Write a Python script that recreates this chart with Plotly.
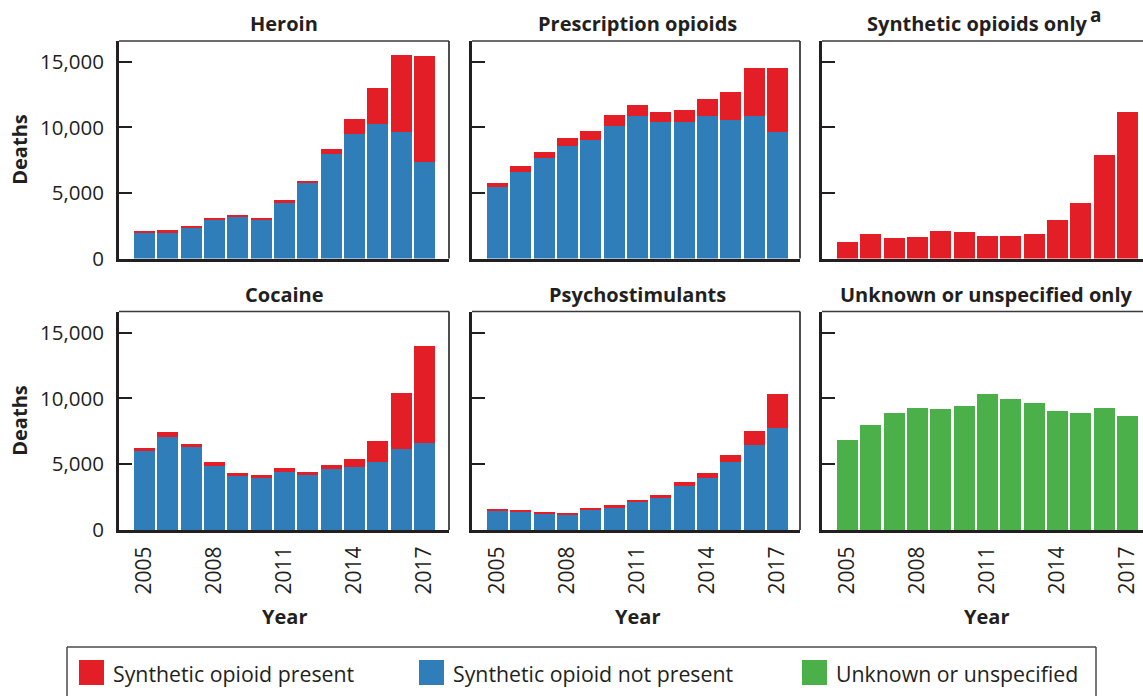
import plotly.graph_objects as go

years = list(range(2005, 2018))

heroin_not_present = [1950, 1950, 2380, 3010, 3220, 3010, 4310, 5830, 8000, 9530, 10290, 9680, 7350]
heroin_present = [150, 230, 80, 80, 70, 80, 120, 120, 340, 1090, 2760, 5880, 8130]

rx_not_present = [5420, 6590, 7650, 8560, 9020, 10080, 10890, 10390, 10440, 10840, 10590, 10840, 9630]
rx_present = [380, 450, 510, 610, 730, 890, 840, 810, 910, 1350, 2150, 3700, 4910]

synthetic_only = [1240, 1850, 1550, 1620, 2100, 2030, 1700, 1700, 1850, 2910, 4230, 7930, 11200]

cocaine_not_present = [6020, 7030, 6270, 4900, 4140, 3980, 4440, 4210, 4640, 4750, 5200, 6170, 6620]
cocaine_present = [200, 430, 280, 280, 200, 210, 280, 210, 310, 660, 1580, 4210, 7390]

psycho_not_present = [1500, 1350, 1270, 1190, 1500, 1700, 2110, 2460, 3380, 3960, 5150, 6470, 7770]
psycho_present = [100, 170, 100, 80, 180, 200, 170, 180, 270, 380, 560, 1070, 2590]

unknown_only = [6850, 7970, 8880, 9290, 9210, 9440, 10330, 9970, 9640, 9040, 8880, 9290, 8650]

panel_titles = ["Heroin", "Prescription opioids", "Synthetic opioids only",
                "Cocaine", "Psychostimulants", "Unknown or unspecified only"]
footnote_mark = "a"
legend_labels = ["Synthetic opioid present", "Synthetic opioid not present", "Unknown or unspecified"]
year_ticks = [2005, 2008, 2011, 2014, 2017]
y_ticks = [0, 5000, 10000, 15000]

RED = "#E31E26"
BLUE = "#2F7EBA"
GREEN = "#4BAF4A"
INK = "#231F20"
FONT = "Open Sans"

W, H = 1143, 696

# pixel layout of panels
col_px = [(119, 449), (472, 800), (822, 1143)]
row_px = [(41, 258.5), (311.5, 530)]
nominal_w = 330
title_shift = [0, 0, -10, 0, 0, 0]

fig = go.Figure()

panels = [
    [(heroin_not_present, BLUE), (heroin_present, RED)],
    [(rx_not_present, BLUE), (rx_present, RED)],
    [(synthetic_only, RED)],
    [(cocaine_not_present, BLUE), (cocaine_present, RED)],
    [(psycho_not_present, BLUE), (psycho_present, RED)],
    [(unknown_only, GREEN)],
]

x_start = 2003.907
units_per_px = 14.14 / nominal_w
y_max = 16600

shapes = []
annotations = []


def px_x(v):
    return v / W


def px_y(v):
    return 1 - v / H


for i, series in enumerate(panels):
    r, c = divmod(i, 3)
    n = i + 1
    xa = "x" if n == 1 else f"x{n}"
    ya = "y" if n == 1 else f"y{n}"
    for vals, color in series:
        fig.add_trace(go.Bar(x=years, y=vals, marker=dict(color=color, line=dict(width=0)),
                             xaxis=xa, yaxis=ya, showlegend=False, hoverinfo="skip"))
    x0, x1 = col_px[c]
    y0, y1 = row_px[r]
    xrange = [x_start, x_start + (x1 - x0) * units_per_px]
    xkey = "xaxis" if n == 1 else f"xaxis{n}"
    ykey = "yaxis" if n == 1 else f"yaxis{n}"
    fig.layout[xkey] = dict(
        domain=[px_x(x0), px_x(x1)], anchor=ya, range=xrange,
        showline=True, linewidth=3, linecolor=INK, mirror=False,
        showgrid=False, zeroline=False, ticks="",
        tickvals=year_ticks, tickangle=-90,
        showticklabels=(r == 1),
        tickfont=dict(family=FONT, size=21, color=INK),
        ticklabelstandoff=5, automargin=False,
        fixedrange=True,
    )
    fig.layout[ykey] = dict(
        domain=[px_y(y1), px_y(y0)], anchor=xa, range=[0, y_max],
        showline=True, linewidth=3, linecolor=INK, mirror=False,
        showgrid=False, zeroline=False,
        ticks="inside", ticklen=13, tickwidth=1.5, tickcolor=INK,
        tickvals=y_ticks, tickformat=",d",
        showticklabels=(c == 0),
        tickfont=dict(family=FONT, size=20.5, color=INK),
        ticklabelstandoff=8, automargin=False,
        fixedrange=True,
    )
    # top frame line
    shapes.append(dict(type="line", xref=f"{xa} domain", yref=f"{ya} domain",
                       x0=0, x1=1, y0=1, y1=1, line=dict(color="#3A3A3A", width=1.5)))
    if c != 2:
        shapes.append(dict(type="line", xref=f"{xa} domain", yref=f"{ya} domain",
                           x0=1, x1=1, y0=0, y1=1, line=dict(color="#3A3A3A", width=1.8)))
    # panel title
    annotations.append(dict(text=f"<b>{panel_titles[i]}</b>", xref="paper", yref="paper",
                            x=px_x(x0 + nominal_w / 2 + title_shift[i]), y=px_y(y0 - 17),
                            xanchor="center", yanchor="middle", showarrow=False,
                            font=dict(family=FONT, size=20, color=INK)))
    if c == 0:
        annotations.append(dict(text="<b>Deaths</b>", xref="paper", yref="paper",
                                x=px_x(20), y=px_y((y0 + y1) / 2), textangle=-90,
                                xanchor="center", yanchor="middle", showarrow=False,
                                font=dict(family=FONT, size=20, color=INK)))
    if r == 1:
        annotations.append(dict(text="<b>Year</b>", xref="paper", yref="paper",
                                x=px_x(x0 + nominal_w / 2), y=px_y(616),
                                xanchor="center", yanchor="middle", showarrow=False,
                                font=dict(family=FONT, size=20, color=INK)))

# footnote superscript on the synthetic opioids title
annotations.append(dict(text=f"<b>{footnote_mark}</b>", xref="paper", yref="paper",
                        x=px_x(1088), y=px_y(15), xanchor="left", yanchor="middle",
                        showarrow=False, font=dict(family=FONT, size=19, color=INK)))

# manual legend (box open at the bottom edge of the page)
box_l, box_r, box_t = 67, 1096, 647
for (ax0, ay0, ax1, ay1) in [(box_l, box_t, box_r, box_t), (box_l, box_t, box_l, H),
                              (box_r, box_t, box_r, H)]:
    shapes.append(dict(type="line", xref="paper", yref="paper",
                       x0=px_x(ax0), y0=px_y(ay0), x1=px_x(ax1), y1=px_y(ay1),
                       line=dict(color="#4A4A4A", width=1.5)))
leg_colors = [RED, BLUE, GREEN]
leg_sq_x = [79, 419, 802]
for lbl, colr, sx in zip(legend_labels, leg_colors, leg_sq_x):
    shapes.append(dict(type="rect", xref="paper", yref="paper",
                       x0=px_x(sx), x1=px_x(sx + 25), y0=px_y(685), y1=px_y(660),
                       line=dict(width=0), fillcolor=colr))
    annotations.append(dict(text=lbl, xref="paper", yref="paper",
                            x=px_x(sx + 32), y=px_y(673), xanchor="left", yanchor="middle",
                            showarrow=False, font=dict(family=FONT, size=21.3, color=INK)))

fig.update_layout(
    width=W, height=H, autosize=False,
    margin=dict(l=0, r=0, t=0, b=0, pad=0),
    paper_bgcolor="white", plot_bgcolor="white",
    barmode="stack", bargap=0.1,
    shapes=shapes, annotations=annotations,
    showlegend=False, hovermode=False,
    font=dict(family=FONT, color=INK),
)

fig.write_html("out.html",
               config={"displayModeBar": False, "responsive": False},
               post_script="document.body.style.margin='0';document.body.style.padding='0';document.body.style.overflow='hidden';")
